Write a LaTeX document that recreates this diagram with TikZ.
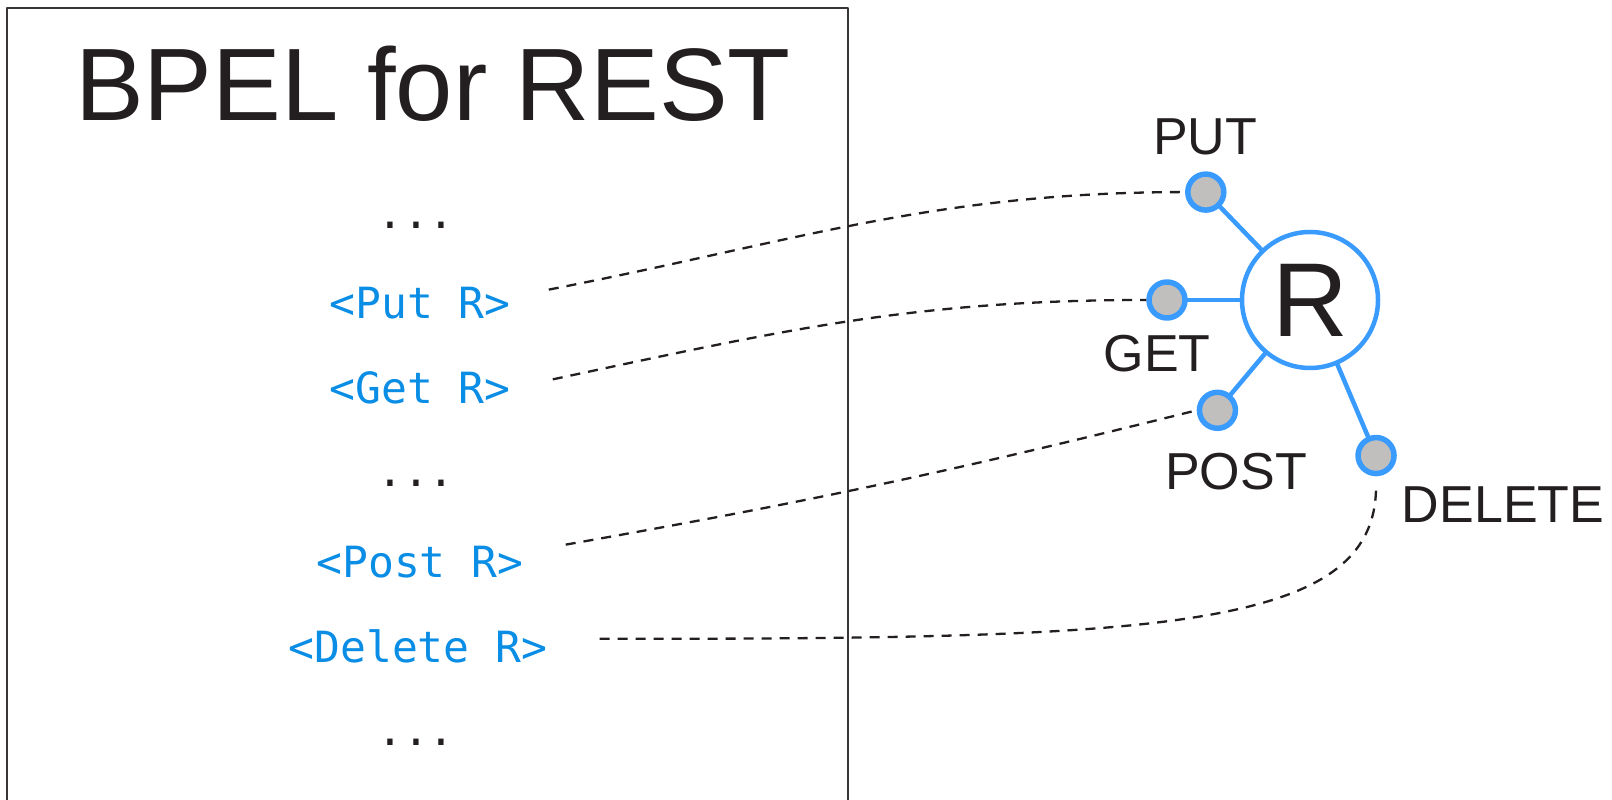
\documentclass[tikz,border=0pt]{standalone}
\usepackage{fontspec}
\setmainfont{Liberation Sans}
\newfontfamily\codefont{DejaVu Sans Mono}
\definecolor{resblue}{HTML}{3A9BFF}
\definecolor{codeblue}{HTML}{0A8DE5}
\definecolor{portgray}{HTML}{C0BFBD}
\definecolor{ink}{HTML}{231F20}
\begin{document}
\begin{tikzpicture}[x=1pt, y=1pt, line cap=round, line join=round,
  op/.style={text=codeblue, font=\codefont\fontsize{43}{43}\selectfont, inner sep=0pt, anchor=base},
  ellip/.style={text=ink, font=\codefont\fontsize{43}{43}\selectfont, inner sep=0pt, anchor=base},
  verblabel/.style={text=ink, font=\fontsize{52}{52}\selectfont, inner sep=0pt, anchor=base},
  port/.style={circle, draw=resblue, fill=portgray, line width=5.5pt, minimum size=36pt, inner sep=0pt},
  spoke/.style={resblue, line width=4.5pt},
  link/.style={ink, line width=2.3pt, line cap=butt, dash pattern=on 10pt off 8pt}]
%\draw[help lines] (0,0) grid[step=100] (1612,800);
\useasboundingbox (0,0) rectangle (1612,800);

% process box, open at the bottom
\draw [line width=1.8pt, ink!90] (7,-5) -- (7,792) -- (848,792) -- (848,-5);
\node [anchor=base, text=ink, inner sep=0pt, font=\fontsize{103}{103}\selectfont]
  (title) at (433,679) {BPEL for REST};

\node [ellip] (dotsa) at (416,571) {...};
\node [op] (putop) at (420,481) {<Put R>};
\node [op] (getop) at (420,396) {<Get R>};
\node [ellip] (dotsb) at (416,313) {...};
\node [op] (postop) at (420,222) {<Post R>};
\node [op] (delop) at (418,137) {<Delete R>};
\node [ellip] (dotsc) at (416,54) {...};

% the resource and its four verbs
\node [circle, draw=resblue, line width=4.5pt, minimum size=136pt, inner sep=0pt,
  text=ink, font=\fontsize{105}{105}\selectfont] (res) at (1310,500) {R};
\node [port] (put) at ([shift={(134:150)}]res.center) {};
\node [port] (get) at ([shift={(180:143)}]res.center) {};
\node [port] (post) at ([shift={(230:144)}]res.center) {};
\node [port] (delete) at ([shift={(-67:169)}]res.center) {};
\foreach \p in {put,get,post,delete}
  \draw [spoke] (res) -- (\p);

\node [verblabel] (putlbl) at (1205,645) {PUT};
\node [verblabel] (getlbl) at (1157,428) {GET};
\node [verblabel] (postlbl) at (1236,310) {POST};
\node [verblabel] (deletelbl) at (1503,277) {DELETE};

\draw [link] ([shift={(38,14)}]putop.east) to[out=11, in=180] (put.west);
\draw [link] ([shift={(42,9)}]getop.east) to[out=12, in=180] (get.west);
\draw [link] ([shift={(42,18)}]postop.east) to[out=10, in=194] (post.west);
\draw [link, shorten >=10pt] ([shift={(52,8)}]delop.east)
  to[out=0, in=-90, out looseness=1.8, in looseness=0.5] (delete.south);
\end{tikzpicture}
\end{document}
